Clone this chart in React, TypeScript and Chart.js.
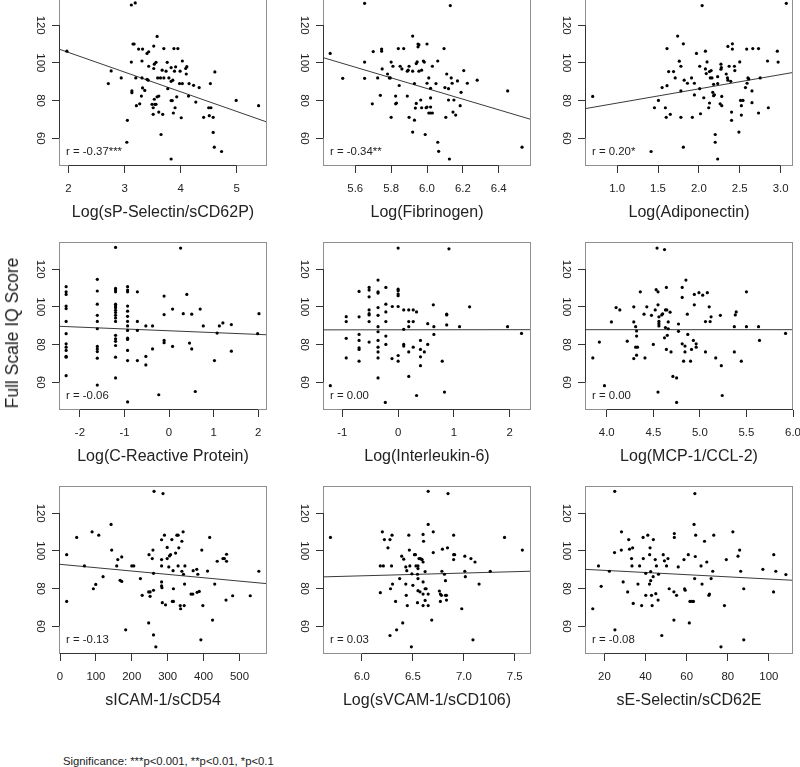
import React, { useEffect, useRef } from 'react';
import { Chart, registerables } from 'chart.js';

Chart.register(...registerables);

const FONT = '"Liberation Sans", Arial, Helvetica, sans-serif';

// ---- shared y axis ----
const yTickLabels = ['60', '80', '100', '120'];
const yMin = 45.3;
const yMax = 134.4;
const yAxisTitle = 'Full Scale IQ Score';
const footnote = 'Significance: ***p<0.001, **p<0.01, *p<0.1';

// ---- panel titles / stats ----
const panelTitles = [
  'Log(sP-Selectin/sCD62P)', 'Log(Fibrinogen)', 'Log(Adiponectin)',
  'Log(C-Reactive Protein)', 'Log(Interleukin-6)', 'Log(MCP-1/CCL-2)',
  'sICAM-1/sCD54', 'Log(sVCAM-1/sCD106)', 'sE-Selectin/sCD62E',
];
const panelR = [
  'r = -0.37***', 'r = -0.34**', 'r = 0.20*',
  'r = -0.06', 'r = 0.00', 'r = 0.00',
  'r = -0.13', 'r = 0.03', 'r = -0.08',
];
const xTickLabels = [
  ['2', '3', '4', '5'],
  ['5.6', '5.8', '6.0', '6.2', '6.4'],
  ['1.0', '1.5', '2.0', '2.5', '3.0'],
  ['-2', '-1', '0', '1', '2'],
  ['-1', '0', '1', '2'],
  ['4.0', '4.5', '5.0', '5.5', '6.0'],
  ['0', '100', '200', '300', '400', '500'],
  ['6.0', '6.5', '7.0', '7.5'],
  ['20', '40', '60', '80', '100'],
];
const xMins = [1.83, 5.42, 0.606, -2.47, -1.346, 3.766, -2.8, 5.617, 10.53];
const xMaxs = [5.54, 6.58, 3.152, 2.2, 2.38, 6.0, 576.7, 7.66, 111.76];
// fitted line values at the left and right plot limits
const fitLeft = [107.3, 102.8, 75.7, 89.7, 87.8, 87.9, 92.9, 86.2, 90.2];
const fitRight = [68.6, 70.0, 94.9, 85.2, 87.9, 87.9, 82.6, 89.2, 84.4];

// ---- scatter data [x, iq] ----
const sPSelectin = [
  [1.97, 106.2], [3.12, 130.7], [3.19, 131.8], [3.58, 114], [3.15, 110], [3.17, 110], [3.25, 107.3], [3.32, 107.3],
  [3.52, 108.9], [3.70, 107.6], [3.88, 107.6], [3.95, 107.6], [3.40, 105], [3.43, 105.9], [3.12, 100.4], [3.31, 101],
  [3.53, 99.3], [3.56, 100.3], [3.76, 100.3], [4.03, 101], [4.11, 98], [4.09, 97], [3.43, 98.2], [3.52, 97],
  [3.67, 96.1], [3.74, 95.6], [3.83, 97.5], [3.91, 97.9], [3.89, 95.6], [3.99, 95.6], [4.10, 94.1], [4.61, 95.2],
  [2.76, 95.7], [2.71, 89], [2.94, 92], [3.20, 92], [3.31, 92], [3.40, 91.3], [3.42, 90.8], [3.59, 92],
  [3.64, 92], [3.70, 92], [3.79, 92], [3.86, 90.8], [3.83, 90.2], [3.98, 89], [4.03, 89], [4.15, 89],
  [4.23, 88.1], [4.33, 86.9], [4.53, 89], [3.77, 86.3], [3.32, 86.7], [3.36, 85.4], [3.13, 85.1], [3.13, 84.2],
  [3.21, 77.3], [3.27, 78.3], [3.30, 82.4], [3.49, 78], [3.54, 78], [3.56, 78], [3.53, 80.7], [3.58, 82],
  [3.61, 82.4], [3.83, 80], [3.85, 80], [3.93, 82], [4.14, 82.4], [3.51, 76.2], [3.61, 73.9], [3.51, 72.7],
  [3.68, 72.7], [3.90, 76.2], [3.87, 73.4], [4.01, 70.9], [4.27, 79.2], [4.50, 76.2], [4.54, 76.2], [4.41, 71.1],
  [4.51, 72], [4.58, 71.1], [4.99, 80.1], [5.39, 77.3], [3.05, 69.5], [3.65, 62], [3.04, 57.9], [4.58, 63.1],
  [4.60, 55.3], [4.73, 53], [3.83, 49],
];
const fibrinogen = [
  [5.652, 131.6], [6.13, 130.4], [5.46, 105], [5.53, 91.8], [5.652, 100.4], [5.652, 91.8], [5.70, 106], [5.747, 107.3],
  [5.747, 106.2], [5.725, 92], [5.74, 82.8], [5.695, 78.3], [5.75, 96.8], [5.78, 94.1], [5.79, 92], [5.795, 92],
  [5.80, 100.4], [5.81, 98.2], [5.84, 107.6], [5.87, 107.6], [5.85, 98.2], [5.86, 96.8], [5.845, 88], [5.825, 82.4],
  [5.825, 78.3], [5.83, 78.7], [5.80, 71.1], [5.89, 95.6], [5.895, 96.1], [5.90, 98.2], [5.92, 114.2], [5.92, 95.6],
  [5.89, 82.4], [5.90, 71.1], [5.93, 89], [5.93, 69.6], [5.92, 63.3], [5.935, 76], [5.94, 78.5], [5.94, 99.6],
  [5.945, 100.5], [5.95, 110], [5.95, 108.5], [5.955, 109.6], [5.955, 95.6], [5.965, 80.3], [5.97, 76.2], [5.98, 101],
  [5.985, 100.4], [5.97, 96.1], [6.00, 89.2], [6.00, 76.6], [5.995, 76.2], [6.0, 110], [5.99, 62], [6.01, 92],
  [6.02, 86.5], [6.02, 81.4], [6.02, 76.6], [6.01, 73.4], [6.02, 73.4], [6.03, 73.4], [6.03, 98.2], [6.05, 89],
  [6.06, 101], [6.06, 57.9], [6.065, 53.1], [6.095, 107.6], [6.10, 86.9], [6.11, 94.1], [6.12, 86.3], [6.105, 71.1],
  [6.12, 80.3], [6.125, 49], [6.135, 92], [6.14, 89.2], [6.145, 73.9], [6.15, 80.3], [6.16, 72.3], [6.17, 90.4],
  [6.185, 77.3], [6.19, 84.4], [6.205, 95.9], [6.225, 89.2], [6.28, 90.8], [6.45, 85.1], [6.53, 55.3],
];
const adiponectin = [
  [0.70, 82.2], [2.04, 130.4], [3.07, 131.6], [1.415, 53], [1.456, 76.2], [1.505, 80.1], [1.55, 86.9], [1.59, 76.2],
  [1.60, 71.1], [1.61, 87.9], [1.61, 107.6], [1.63, 95.4], [1.65, 72.7], [1.69, 95.4], [1.71, 92], [1.74, 114.2],
  [1.76, 100.9], [1.78, 98.2], [1.78, 85.1], [1.78, 71.1], [1.81, 110.1], [1.82, 90.8], [1.81, 55.3], [1.86, 89.2],
  [1.91, 92], [1.92, 71.1], [1.945, 89.2], [1.945, 83], [1.97, 105], [2.01, 98.2], [2.01, 86.3], [2.02, 73],
  [2.06, 81.5], [2.08, 106.2], [2.08, 96.8], [2.09, 94.3], [2.10, 100.5], [2.12, 76.2], [2.13, 78.7], [2.13, 95.4],
  [2.15, 95.9], [2.14, 92], [2.16, 92], [2.18, 88.6], [2.17, 84.4], [2.19, 83.1], [2.18, 82.6], [2.20, 62],
  [2.20, 57.9], [2.23, 92.7], [2.23, 89], [2.26, 78.3], [2.23, 49], [2.27, 99.3], [2.27, 96.6], [2.275, 97.5],
  [2.28, 82.2], [2.28, 77.3], [2.335, 94.1], [2.35, 92], [2.355, 90.8], [2.355, 108.7], [2.37, 98.2], [2.39, 90.2],
  [2.40, 73.9], [2.40, 69.5], [2.41, 110.1], [2.41, 107.3], [2.435, 98.2], [2.44, 95.9], [2.49, 63.3], [2.50, 100.5],
  [2.51, 80.1], [2.54, 80.1], [2.52, 77.3], [2.52, 72.3], [2.57, 86.9], [2.59, 89.2], [2.60, 92], [2.61, 91.5],
  [2.585, 107.3], [2.66, 107.6], [2.73, 107.6], [2.65, 78.9], [2.65, 85.1], [2.73, 73.4], [2.75, 92], [2.84, 101],
  [2.85, 76.2], [2.96, 106.2], [2.97, 100.4],
];
const crp = [
  [-2.31, 110.7], [-2.31, 108], [-2.31, 106.6], [-2.31, 100.4], [-2.31, 99.1], [-2.31, 92.3], [-2.31, 85.8], [-2.31, 80.4],
  [-2.31, 78.6], [-2.31, 76.9], [-2.31, 73.8], [-2.31, 73.3], [-2.31, 63.5],
  [-1.61, 114.6], [-1.61, 108.4], [-1.61, 101.4], [-1.61, 95.5], [-1.61, 92.3], [-1.61, 88.4], [-1.61, 79], [-1.61, 77.7],
  [-1.61, 76.3], [-1.61, 72.8], [-1.61, 58.5],
  [-1.2, 131.5], [-1.2, 109.8], [-1.2, 108.9], [-1.2, 108], [-1.2, 101.4], [-1.2, 100.5], [-1.2, 99.5], [-1.2, 98.2],
  [-1.2, 97], [-1.2, 95.5], [-1.2, 94.1], [-1.2, 92.3], [-1.2, 84.9], [-1.2, 83.1], [-1.2, 81.7], [-1.2, 79.5],
  [-1.2, 73.3], [-1.2, 62.3],
  [-0.93, 110.7], [-0.93, 108.9], [-0.93, 108], [-0.93, 100.4], [-0.93, 97.7], [-0.93, 95], [-0.93, 92.3], [-0.93, 89.9],
  [-0.93, 87.5], [-0.93, 83.4], [-0.93, 82.7], [-0.93, 76.9], [-0.93, 71.5], [-0.93, 49.6],
  [-0.71, 108], [-0.71, 92.3], [-0.71, 87.5], [-0.71, 71.5],
  [-0.52, 89.9], [-0.52, 73.7], [-0.52, 69.2], [-0.37, 89.9], [-0.37, 77.7], [-0.23, 53.4],
  [-0.11, 105.7], [-0.11, 95.9], [-0.11, 82.2], [-0.11, 81], [0.08, 98.8], [0.08, 79], [0.26, 131.2], [0.32, 96.4],
  [0.40, 106.6], [0.46, 80.8], [0.51, 96.1], [0.51, 77.7], [0.59, 55.1], [0.70, 98.8], [0.77, 89.9], [1.02, 71.5],
  [1.08, 86.1], [1.13, 89.9], [1.21, 91.5], [1.40, 90.6], [1.40, 76.5], [1.99, 85.8], [2.02, 96.4],
];
const interleukin6 = [
  [-1.215, 58.2], [-0.93, 94.8], [-0.93, 92.2], [-0.93, 83.3], [-0.93, 72.9], [-0.70, 108.2], [-0.70, 94.7], [-0.70, 85.4],
  [-0.70, 82.2], [-0.70, 78.3], [-0.70, 77.4], [-0.70, 71.2], [-0.52, 110.3], [-0.52, 108.9], [-0.52, 105.3], [-0.52, 98.4],
  [-0.52, 96.4], [-0.52, 95.7], [-0.52, 92.2], [-0.52, 81.3], [-0.36, 114.2], [-0.36, 108], [-0.36, 107.3], [-0.36, 99.6],
  [-0.36, 95.5], [-0.36, 89.5], [-0.36, 86.8], [-0.36, 82.2], [-0.36, 78.6], [-0.36, 76.1], [-0.36, 72.9], [-0.36, 62.3],
  [-0.22, 110.3], [-0.22, 101.4], [-0.22, 97.3], [-0.22, 92.2], [-0.22, 84.5], [-0.22, 80.1], [-0.23, 49.3], [-0.105, 100.2],
  [-0.11, 72.6], [0.0, 131.2], [0.0, 109.4], [0.0, 108.5], [0.0, 106.8], [0.0, 105.9], [0.0, 100.2], [0.0, 74.2],
  [0.0, 71.2], [0.10, 98.4], [0.10, 88.1], [0.10, 80.1], [0.10, 79.2], [0.19, 98.4], [0.19, 92.2], [0.19, 89.5],
  [0.19, 76.1], [0.19, 63.1], [0.27, 98.4], [0.27, 92.2], [0.27, 78.6], [0.33, 97.3], [0.33, 53], [0.40, 82.2],
  [0.40, 77.4], [0.40, 73.5], [0.40, 68.8], [0.47, 76.1], [0.53, 91.1], [0.53, 80.1], [0.63, 101.1], [0.64, 89.5],
  [0.64, 85.4], [0.79, 71.2], [0.83, 54.8], [0.87, 96.1], [0.87, 95.7], [0.87, 90.4], [0.91, 130.8], [1.10, 89.5],
  [1.28, 100], [1.96, 89.5], [2.21, 85.9],
];
const mcp1 = [
  [3.85, 72.9], [3.92, 81.3], [3.975, 58.2], [4.05, 92], [4.10, 99.6], [4.14, 98.4], [4.22, 81.8], [4.29, 100],
  [4.29, 92], [4.29, 72.6], [4.31, 89.5], [4.32, 87.2], [4.32, 84.5], [4.31, 78.6], [4.33, 78.6], [4.32, 74.4],
  [4.36, 108], [4.40, 96.1], [4.41, 72.9], [4.43, 100], [4.48, 95.5], [4.50, 80.1], [4.52, 98.4], [4.53, 109.1],
  [4.55, 108], [4.54, 131.2], [4.55, 101.1], [4.56, 94.7], [4.56, 92.3], [4.56, 91.1], [4.56, 89.9], [4.55, 54.8],
  [4.59, 95.7], [4.60, 96.3], [4.62, 130.4], [4.63, 98.4], [4.645, 98.4], [4.63, 89], [4.64, 110.3], [4.65, 84.9],
  [4.62, 83.6], [4.64, 77.4], [4.66, 92], [4.66, 88.4], [4.68, 97.2], [4.69, 76.1], [4.71, 63.1], [4.75, 62.3],
  [4.75, 49.3], [4.77, 90.9], [4.77, 87], [4.81, 110.3], [4.81, 105], [4.81, 80.4], [4.825, 71.2], [4.84, 76.1],
  [4.85, 114.2], [4.865, 96.1], [4.87, 85.4], [4.84, 79.2], [4.90, 71.2], [4.91, 77.4], [4.94, 101.1], [4.94, 106.6],
  [4.93, 82.2], [4.96, 80.4], [4.96, 78.6], [4.99, 107.5], [5.03, 106.2], [5.06, 92.2], [5.06, 76.1], [5.08, 107.5],
  [5.10, 100], [5.11, 92.2], [5.12, 94.7], [5.17, 72.9], [5.22, 95.5], [5.23, 68.8], [5.24, 53], [5.37, 76.1],
  [5.37, 89.5], [5.38, 95.7], [5.39, 97.3], [5.445, 71.2], [5.50, 108], [5.50, 89.5], [5.63, 89.5], [5.64, 82.2],
  [5.92, 85.9],
];
const sICAM1 = [
  [262, 131.6], [287, 130.4],
  [18.6, 98], [18.6, 73.2], [46.5, 107.1], [68, 92], [89.4, 110.1], [93, 79.9], [99.6, 82.2], [108, 108.3],
  [120, 86.3], [142.3, 114], [144, 100.4], [158, 92], [161, 95.4], [167.4, 84.4], [172, 96.8], [172, 83.8],
  [200, 92], [205.6, 92], [183, 58.1], [224, 85.3], [229, 76.4], [248, 98], [247, 78.2], [251, 78.2],
  [247, 61.8], [251, 75.9], [257, 95.9], [259, 100.4], [260.5, 79.1], [260.5, 88.1], [260.5, 55.4], [267, 49.1],
  [283, 105.9], [291, 108.3], [283, 95.4], [283, 92], [283, 83.5], [283, 81.4], [284, 80.5], [285, 72.5],
  [294, 71.4], [298.6, 101.8], [298.6, 95.9], [303, 91.5], [305, 97.3], [308, 98], [311.6, 106], [315, 89.5],
  [313, 73.2], [316, 73.2], [316, 79.9], [322, 98.8], [325.6, 108.3], [329, 108.3], [329, 92], [335, 71],
  [336, 69.3], [331, 101.6], [339.5, 105.1], [339.5, 89.2], [343, 110.1], [344, 87.6], [348, 92], [347, 82.4],
  [346, 71], [365, 77.1], [370, 77.1], [371, 89.5], [381, 90.2], [382, 78], [384, 87.6], [388, 78.5],
  [395, 100.4], [392.5, 52.8], [398, 71], [411, 89.3], [417, 107.1], [431, 82.4], [425, 63.3], [438, 94.5],
  [454, 95.9], [458, 95.9], [464, 98.2], [464, 94.5], [462.5, 73.9], [481, 76.2], [530, 76.2], [554, 89.2],
];
const sVCAM1 = [
  [6.65, 131.6], [6.845, 130.4],
  [5.69, 107.1], [6.18, 77.8], [6.20, 110.1], [6.22, 106], [6.18, 92], [6.21, 92], [6.29, 92], [6.255, 101.6],
  [6.275, 106], [6.295, 108.3], [6.28, 79.9], [6.30, 82.4], [6.275, 55.1], [6.33, 73.2], [6.34, 58.1], [6.37, 85.3],
  [6.39, 97.2], [6.41, 95.6], [6.40, 61.8], [6.43, 91.5], [6.44, 89.5], [6.43, 82.4], [6.435, 76.4], [6.445, 71],
  [6.46, 108.3], [6.465, 100.4], [6.47, 92], [6.49, 87.8], [6.485, 49.1], [6.50, 81.7], [6.515, 98], [6.525, 98],
  [6.53, 92], [6.55, 92], [6.55, 90.6], [6.545, 87.6], [6.55, 85.3], [6.55, 78.9], [6.57, 78.3], [6.545, 72.5],
  [6.56, 95.9], [6.57, 95.9], [6.585, 95.6], [6.59, 95.4], [6.60, 94.1], [6.60, 83.5], [6.60, 77.1], [6.60, 71],
  [6.60, 108.7], [6.605, 105.1], [6.62, 79.9], [6.63, 79.9], [6.62, 89], [6.62, 73.7], [6.65, 114], [6.65, 77.1],
  [6.65, 71], [6.685, 63.3], [6.70, 110.1], [6.70, 99.1], [6.76, 78.7], [6.77, 77.1], [6.77, 73.2], [6.78, 76.4],
  [6.785, 89.2], [6.79, 100.9], [6.81, 87.6], [6.82, 76.4], [6.83, 76.4], [6.82, 84.2], [6.84, 101.6], [6.83, 73.9],
  [6.90, 108.3], [6.90, 98], [6.91, 98], [6.90, 95.4], [6.98, 69.3], [7.01, 97.2], [7.01, 89.2], [7.015, 86.3],
  [7.07, 95.9], [7.09, 52.8], [7.11, 94.1], [7.15, 82.4], [7.26, 89.2], [7.40, 107.1], [7.575, 100.4],
];
const sESelectin = [
  [25, 131.6], [64, 130.4],
  [14.3, 69.3], [17.1, 92], [18.4, 81.2], [22.4, 89.2], [24.9, 99.1], [25.1, 58.1], [28.3, 110.1], [28.2, 100.4],
  [29.1, 83.5], [31.3, 78.2], [31.8, 106], [32.2, 100.9], [33.7, 101.6], [33.2, 95.9], [33.4, 92], [34, 72.1],
  [36.3, 82.4], [37.1, 92], [38.1, 71], [38.8, 107.1], [38.9, 95.9], [40.1, 88.1], [40.1, 76.4], [41.1, 108.3],
  [41.9, 82.4], [42, 98], [42.2, 101.6], [42.5, 89], [42.5, 84.2], [42.9, 76.4], [43.2, 71], [43.8, 106],
  [43.7, 86.3], [44.7, 95.4], [45, 77.3], [45.3, 92], [46.1, 73.9], [46.3, 87.6], [47.9, 55.1], [48.6, 98],
  [49.2, 94.7], [50.2, 92], [50.9, 95.9], [51.5, 79.9], [53.8, 78.3], [54, 109.2], [54, 107.1], [53.8, 63.3],
  [55.1, 76.4], [55.9, 91.5], [58.7, 95.4], [59.3, 79.1], [59.0, 79.9], [60.8, 98], [61.3, 61.8], [61.6, 73.2],
  [62.5, 73.2], [63.3, 73.2], [63.6, 114], [63.9, 85.3], [64.2, 97], [64.4, 108.3], [67, 92], [67.5, 82.4],
  [68.7, 105.1], [69.8, 94.1], [70.8, 76.4], [71.1, 77.1], [71.9, 85.3], [72.7, 89.2], [73.2, 108.3], [76.7, 49.1],
  [78.4, 71], [79.3, 95.4], [82.5, 110.1], [85, 97.2], [85.8, 100.4], [86.3, 89.2], [87.8, 79.9], [87.8, 52.8],
  [97.1, 90.2], [102.4, 98], [102.3, 78.2], [103.4, 89.2], [108.3, 87.4],
];

const panelData = [sPSelectin, fibrinogen, adiponectin, crp, interleukin6, mcp1, sICAM1, sVCAM1, sESelectin];

// ---- layout (pixels) ----
const COL_LEFT = [59, 323, 585];
const ROW_TOP = [-2, 242, 486];
const PLOT_W = 208;
const PLOT_H = 168;
const YW = 50;
const XH = 62;
const PT = 12;
const PR = 22;
const CW = YW + PLOT_W + PR;
const CH = PT + PLOT_H + XH;

const rStylePlugin = {
  id: 'rStyle',
  afterDraw(chart: any, _args: any, opts: any) {
    const { ctx, chartArea: a, scales } = chart;
    ctx.save();
    // plot box
    ctx.strokeStyle = '#8f8f8f';
    ctx.lineWidth = 1;
    ctx.strokeRect(Math.round(a.left) + 0.5, Math.round(a.top) + 0.5, Math.round(a.right - a.left) - 1, Math.round(a.bottom - a.top) - 1);
    // axis segments from first to last tick
    ctx.strokeStyle = '#333';
    const xt = scales.x.ticks;
    const yt = scales.y.ticks;
    const bx0 = scales.x.getPixelForValue(xt[0].value);
    const bx1 = scales.x.getPixelForValue(xt[xt.length - 1].value);
    const by = Math.round(a.bottom) - 0.5;
    ctx.beginPath();
    ctx.moveTo(bx0, by);
    ctx.lineTo(bx1, by);
    const ly0 = scales.y.getPixelForValue(yt[0].value);
    const ly1 = scales.y.getPixelForValue(yt[yt.length - 1].value);
    const lx = Math.round(a.left) + 0.5;
    ctx.moveTo(lx, ly0);
    ctx.lineTo(lx, ly1);
    ctx.stroke();
    // correlation text
    ctx.fillStyle = '#222';
    ctx.font = `11.4px ${FONT}`;
    ctx.textBaseline = 'middle';
    ctx.textAlign = 'left';
    ctx.fillText(opts.text, a.left + 7, a.bottom - 14);
    ctx.restore();
  },
};

function Panel({ idx }: { idx: number }) {
  const ref = useRef<HTMLCanvasElement>(null);
  const col = idx % 3;
  const row = Math.floor(idx / 3);
  useEffect(() => {
    const labels = xTickLabels[idx];
    const tickVals = labels.map(Number);
    const yVals = yTickLabels.map(Number);
    const pts = panelData[idx].map(([x, y]) => ({ x, y }));
    const fit = [
      { x: xMins[idx], y: fitLeft[idx] },
      { x: xMaxs[idx], y: fitRight[idx] },
    ];
    const tickFont = { family: FONT, size: 11.4 };
    const chart = new Chart(ref.current as HTMLCanvasElement, {
      type: 'scatter',
      data: {
        datasets: [
          {
            data: pts,
            pointRadius: 1.6,
            pointBorderWidth: 0,
            pointBackgroundColor: '#000',
            backgroundColor: '#000',
            showLine: false,
          },
          {
            data: fit,
            showLine: true,
            pointRadius: 0,
            borderColor: '#3a3a3a',
            borderWidth: 1,
          },
        ],
      },
      options: {
        animation: false,
        responsive: false,
        maintainAspectRatio: false,
        events: [],
        layout: { padding: { top: PT, right: PR, left: 0, bottom: 0 } },
        plugins: {
          legend: { display: false },
          tooltip: { enabled: false },
          rStyle: { text: panelR[idx] },
        } as any,
        scales: {
          x: {
            type: 'linear',
            min: xMins[idx],
            max: xMaxs[idx],
            afterBuildTicks: (s: any) => {
              s.ticks = tickVals.map((v) => ({ value: v }));
            },
            afterFit: (s: any) => {
              s.height = XH;
            },
            grid: { drawOnChartArea: false, drawTicks: true, tickLength: 7, color: '#333', lineWidth: 1 },
            border: { display: false },
            ticks: {
              autoSkip: false,
              maxRotation: 0,
              minRotation: 0,
              padding: 9,
              color: '#222',
              font: tickFont,
              callback: (_v: any, i: number) => labels[i],
            },
            title: {
              display: true,
              text: panelTitles[idx],
              color: '#222',
              font: { family: FONT, size: 16 },
              padding: { top: 0, bottom: 6 },
            },
          },
          y: {
            type: 'linear',
            min: yMin,
            max: yMax,
            afterBuildTicks: (s: any) => {
              s.ticks = yVals.map((v) => ({ value: v }));
            },
            afterFit: (s: any) => {
              s.width = YW;
            },
            grid: { drawOnChartArea: false, drawTicks: true, tickLength: 7, color: '#333', lineWidth: 1 },
            border: { display: false },
            ticks: {
              autoSkip: false,
              minRotation: -90,
              maxRotation: -90,
              crossAlign: 'center',
              padding: 2,
              color: '#222',
              font: tickFont,
              callback: (_v: any, i: number) => yTickLabels[i],
            },
          },
        },
      } as any,
      plugins: [rStylePlugin],
    });
    return () => chart.destroy();
  }, [idx]);
  return (
    <canvas
      ref={ref}
      width={CW}
      height={CH}
      style={{
        position: 'absolute',
        left: COL_LEFT[col] - YW,
        top: ROW_TOP[row] - PT,
        width: CW,
        height: CH,
      }}
    />
  );
}

export default function App() {
  return (
    <div
      style={{
        position: 'absolute',
        left: 0,
        top: 0,
        width: 800,
        height: 767,
        overflow: 'hidden',
        background: '#fff',
        fontFamily: FONT,
      }}
    >
      {panelTitles.map((_, i) => (
        <Panel key={i} idx={i} />
      ))}
      <div
        style={{
          position: 'absolute',
          left: 12,
          top: 333,
          transform: 'translate(-50%, -50%) rotate(-90deg)',
          whiteSpace: 'nowrap',
          fontSize: 17.5,
          color: '#222',
          lineHeight: '20px',
        }}
      >
        {yAxisTitle}
      </div>
      <div
        style={{
          position: 'absolute',
          left: 63,
          top: 755,
          whiteSpace: 'nowrap',
          fontSize: 11.3,
          color: '#222',
          lineHeight: '13px',
        }}
      >
        {footnote}
      </div>
    </div>
  );
}
